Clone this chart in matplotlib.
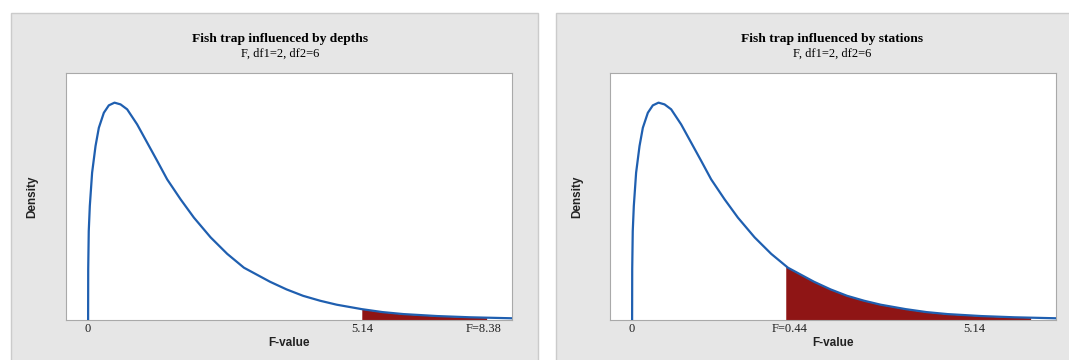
import numpy as np
import matplotlib.pyplot as plt
from matplotlib.patches import Rectangle

# curve (same shape in both panels)
f_value = [0.000, 0.002, 0.012, 0.032, 0.075, 0.139, 0.201, 0.295, 0.388, 0.495,
           0.608, 0.732, 0.919, 1.107, 1.295, 1.482, 1.734, 1.983, 2.296, 2.608,
           2.921, 3.41, 3.72, 4.03, 4.35, 4.66, 5.13, 5.52, 5.91, 6.54, 7.16, 7.94]
density = [0.000, 0.206, 0.360, 0.462, 0.597, 0.705, 0.779, 0.840, 0.870, 0.881,
           0.874, 0.854, 0.793, 0.719, 0.645, 0.570, 0.489, 0.415, 0.335, 0.268,
           0.212, 0.155, 0.124, 0.098, 0.078, 0.062, 0.044, 0.032, 0.024, 0.016, 0.011, 0.007]

titles = ["Fish trap influenced by depths", "Fish trap influenced by stations"]
subtitle = "F, df1=2, df2=6"
tick_pos = [[0, 5.14, 7.41], [0, 2.95, 6.41]]
tick_labels = [["0", "5.14", "F=8.38"], ["0", "F=0.44", "5.14"]]
shade_from = [5.13, 2.88]
shade_to = [7.47, 7.47]

W, H = 1069, 360
fig = plt.figure(figsize=(W / 100, H / 100), dpi=100)

# grey panels behind each graph
for x0, x1 in [(11, 538), (556, 1075)]:
    fig.patches.append(Rectangle((x0 / W, -0.05), (x1 - x0) / W, 1 - 13 / H + 0.05,
                                 transform=fig.transFigure, facecolor="#e6e6e6",
                                 edgecolor="#cbcbcb", linewidth=1, zorder=-5))

axes_left = [65.7, 609.7]
title_x = [280, 832]
dens_x = [32, 577]
x = np.array(f_value)
y = np.array(density)

for i in range(2):
    ax = fig.add_axes([axes_left[i] / W, 1 - 320 / H, 446 / W, 246.7 / H])
    ax.set_facecolor("white")
    ax.set_xlim(-0.42, 7.94)
    ax.set_ylim(0, 1)

    # shaded tail
    mask = (x > shade_from[i]) & (x < shade_to[i])
    xs = np.concatenate([[shade_from[i]], x[mask], [shade_to[i]]])
    ys = np.interp(xs, x, y)
    ax.fill_between(xs, 0, ys, color="#8f1515", linewidth=0, zorder=2)

    ax.plot(x, y, color="#1f5fb0", linewidth=1.6, zorder=3)

    for s in ax.spines.values():
        s.set_color("#a9a9a9")
    ax.set_yticks([])
    ax.set_xticks(tick_pos[i])
    ax.set_xticklabels(tick_labels[i], fontfamily="Liberation Serif", fontsize=9,
                       color="#222222")
    ax.tick_params(axis="x", length=0, pad=2)

    fig.text(title_x[i] / W, 1 - 39 / H, titles[i], ha="center", va="center",
             fontfamily="Liberation Serif", fontweight="bold", fontsize=9.7)
    fig.text(title_x[i] / W, 1 - 53.5 / H, subtitle, ha="center", va="center",
             fontfamily="Liberation Serif", fontsize=9)
    fig.text((axes_left[i] + 223) / W, 1 - 343 / H, "F-value", ha="center", va="center",
             fontfamily="Liberation Sans", fontweight="bold", fontsize=8.5, color="#222222")
    fig.text(dens_x[i] / W, 1 - 197 / H, "Density", ha="center", va="center",
             rotation=90, fontfamily="Liberation Sans", fontweight="bold", fontsize=8.5,
             color="#222222")

fig.savefig("out.png", dpi=100)
